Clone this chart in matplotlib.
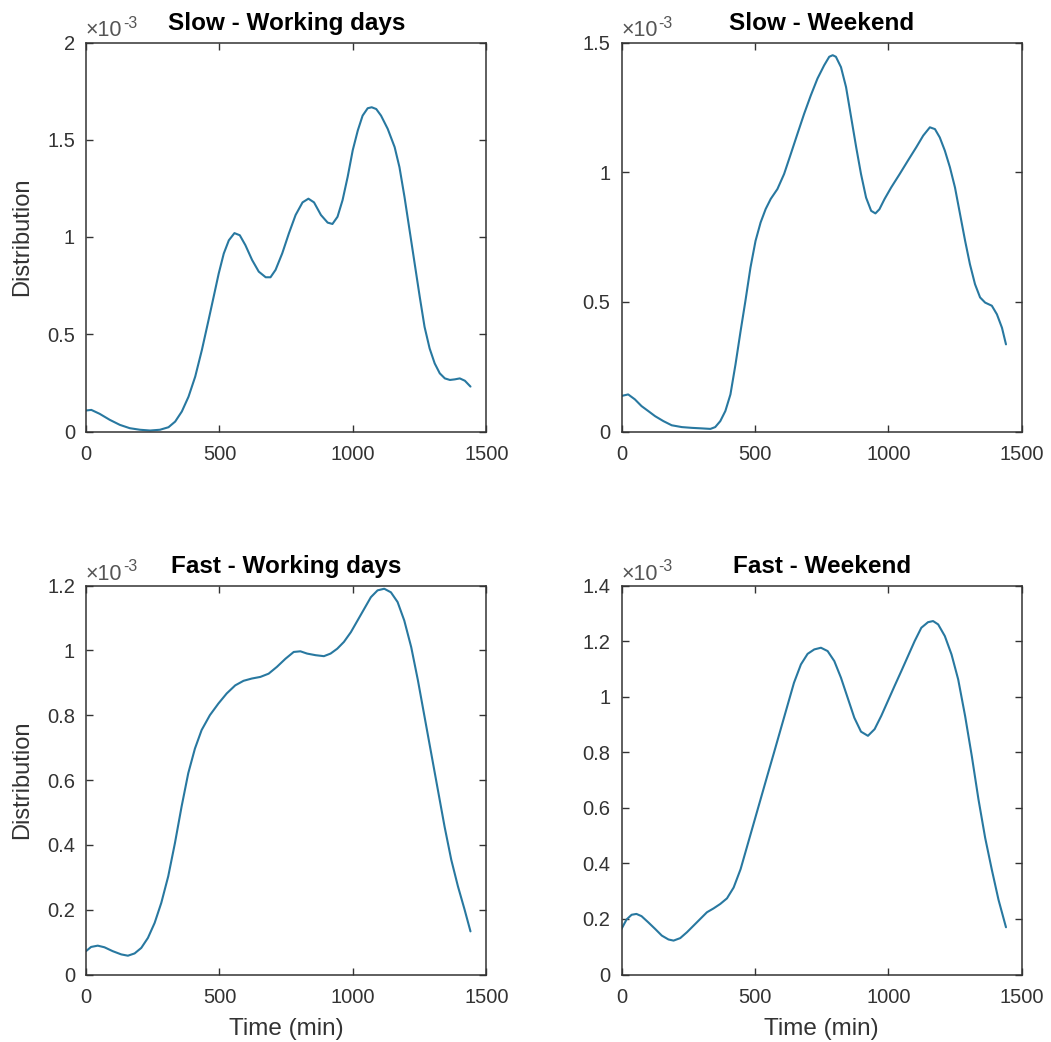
import matplotlib
matplotlib.use("Agg")
import matplotlib.pyplot as plt
from matplotlib.ticker import FuncFormatter

plt.rcParams["font.family"] = ["Liberation Sans", "DejaVu Sans"]

# ---- data: time of day (min) and estimated density (x 1e-3) ----
slow_wd_t = [0, 20, 51, 89, 127, 164, 202, 240, 277, 309, 334, 359, 384, 409, 434,
             459, 478, 497, 516, 535, 556, 576, 597, 622, 647, 673, 691, 710, 735,
             760, 785, 811, 833, 854, 880, 905, 923, 942, 961, 980, 999, 1018, 1036,
             1055, 1070, 1087, 1105, 1130, 1156, 1174, 1193, 1212, 1231, 1250, 1268,
             1287, 1306, 1325, 1344, 1363, 1381, 1400, 1419, 1440]
slow_wd_v = [0.108, 0.111, 0.091, 0.060, 0.034, 0.017, 0.009, 0.005, 0.009, 0.022,
             0.051, 0.103, 0.179, 0.282, 0.419, 0.573, 0.692, 0.812, 0.915, 0.983,
             1.020, 1.009, 0.958, 0.882, 0.822, 0.793, 0.793, 0.831, 0.916, 1.019,
             1.113, 1.178, 1.197, 1.178, 1.113, 1.074, 1.067, 1.104, 1.190, 1.309,
             1.446, 1.548, 1.624, 1.662, 1.667, 1.658, 1.624, 1.556, 1.462, 1.359,
             1.205, 1.034, 0.863, 0.692, 0.538, 0.427, 0.350, 0.299, 0.273, 0.265,
             0.268, 0.273, 0.261, 0.231]

slow_we_t = [0, 25, 50, 75, 100, 126, 157, 188, 226, 264, 301, 333, 351, 370, 389,
             408, 427, 446, 464, 483, 502, 521, 540, 559, 584, 609, 634, 659, 684,
             709, 734, 759, 778, 791, 803, 822, 841, 860, 879, 897, 916, 935, 951,
             966, 985, 1010, 1042, 1073, 1104, 1130, 1155, 1174, 1192, 1211, 1230,
             1249, 1268, 1287, 1305, 1324, 1343, 1362, 1387, 1406, 1425, 1440]
slow_we_v = [0.137, 0.143, 0.124, 0.098, 0.079, 0.059, 0.040, 0.024, 0.017, 0.014,
             0.012, 0.010, 0.017, 0.040, 0.079, 0.143, 0.259, 0.387, 0.503, 0.632,
             0.735, 0.806, 0.858, 0.897, 0.935, 0.993, 1.070, 1.148, 1.225, 1.296,
             1.361, 1.412, 1.445, 1.451, 1.445, 1.405, 1.328, 1.212, 1.096, 0.993,
             0.902, 0.851, 0.841, 0.857, 0.896, 0.941, 0.993, 1.045, 1.096, 1.141,
             1.173, 1.166, 1.134, 1.083, 1.019, 0.941, 0.838, 0.735, 0.645, 0.568,
             0.517, 0.497, 0.485, 0.452, 0.400, 0.336]

fast_wd_t = [0, 19, 44, 69, 100, 132, 157, 182, 207, 232, 257, 282, 308, 333, 358,
             383, 408, 433, 464, 496, 527, 559, 590, 621, 653, 684, 715, 747, 778,
             803, 828, 860, 891, 916, 941, 966, 992, 1017, 1042, 1067, 1092, 1117,
             1142, 1167, 1192, 1218, 1243, 1268, 1293, 1318, 1343, 1368, 1393, 1418,
             1440]
fast_wd_v = [0.072, 0.085, 0.089, 0.084, 0.072, 0.062, 0.058, 0.065, 0.082, 0.113,
             0.159, 0.221, 0.303, 0.405, 0.518, 0.621, 0.697, 0.754, 0.800, 0.836,
             0.867, 0.892, 0.906, 0.913, 0.918, 0.928, 0.949, 0.974, 0.995, 0.997,
             0.990, 0.985, 0.982, 0.990, 1.005, 1.026, 1.056, 1.092, 1.128, 1.164,
             1.185, 1.190, 1.179, 1.149, 1.092, 1.010, 0.908, 0.795, 0.682, 0.569,
             0.456, 0.354, 0.272, 0.200, 0.133]

fast_we_t = [0, 19, 38, 56, 75, 100, 126, 151, 176, 195, 220, 245, 270, 295, 320,
             345, 370, 395, 420, 446, 471, 496, 521, 546, 571, 596, 621, 646, 672,
             697, 722, 747, 772, 797, 822, 847, 872, 897, 923, 948, 973, 998, 1023,
             1048, 1073, 1098, 1123, 1148, 1167, 1186, 1211, 1236, 1261, 1287, 1312,
             1337, 1362, 1387, 1412, 1440]
fast_we_v = [0.164, 0.198, 0.215, 0.218, 0.210, 0.188, 0.164, 0.140, 0.126, 0.122,
             0.131, 0.152, 0.176, 0.200, 0.224, 0.238, 0.254, 0.274, 0.313, 0.379,
             0.463, 0.547, 0.631, 0.715, 0.798, 0.882, 0.966, 1.050, 1.116, 1.154,
             1.170, 1.176, 1.164, 1.128, 1.068, 0.996, 0.924, 0.874, 0.859, 0.883,
             0.931, 0.985, 1.039, 1.092, 1.146, 1.200, 1.248, 1.268, 1.272, 1.260,
             1.218, 1.152, 1.062, 0.930, 0.786, 0.630, 0.492, 0.377, 0.269, 0.170]

titles = ["Slow - Working days", "Slow - Weekend",
          "Fast - Working days", "Fast - Weekend"]
series = [(slow_wd_t, slow_wd_v), (slow_we_t, slow_we_v),
          (fast_wd_t, fast_wd_v), (fast_we_t, fast_we_v)]
y_tops = [2.0, 1.5, 1.2, 1.4]          # in units of 1e-3
y_steps = [0.5, 0.5, 0.2, 0.2]
x_ticks = [0, 500, 1000, 1500]

LINE = "#2878a0"
AXC = "#333333"

fig = plt.figure(figsize=(10.51, 10.42), dpi=100)
W = 1051.0
H = 1042.0
lefts = [86, 621.5]
tops = [42.5, 585.5]
aw, ah = 400.5, 389.0

for i, ((t, v), title) in enumerate(zip(series, titles)):
    r, c = divmod(i, 2)
    ax = fig.add_axes([lefts[c] / W, 1 - (tops[r] + ah) / H, aw / W, ah / H])
    ax.plot(t, [x * 1e-3 for x in v], color=LINE, lw=1.5,
            solid_joinstyle="round", solid_capstyle="round")
    ax.set_xlim(0, 1500)
    ax.set_ylim(0, y_tops[i] * 1e-3)
    ax.set_xticks(x_ticks)
    n = int(round(y_tops[i] / y_steps[i]))
    ax.set_yticks([k * y_steps[i] * 1e-3 for k in range(n + 1)])
    ax.yaxis.set_major_formatter(FuncFormatter(lambda val, pos: f"{val * 1e3:g}"))
    ax.tick_params(direction="in", length=5, width=1.0, color=AXC,
                   labelcolor=AXC, labelsize=14.5, top=True, right=True)
    ax.tick_params(axis="x", pad=10)
    ax.tick_params(axis="y", pad=8)
    for s in ax.spines.values():
        s.set_color(AXC)
        s.set_linewidth(1.1)
    ax.set_title(title, fontsize=17.5, fontweight="bold", color="black", pad=9)
    # exponent label of the y axis
    base_y = 1.0 + 6 / ah
    ax.text(0.0, base_y, "\u00d710", transform=ax.transAxes,
            ha="left", va="baseline", fontsize=15.5, color="#555555")
    ax.annotate("-3", xy=(0.0, base_y), xycoords="axes fraction",
                xytext=(26.5, 6), textcoords="offset points",
                ha="left", va="baseline", fontsize=11.5, color="#555555")
    if c == 0:
        ax.set_ylabel("Distribution", fontsize=17, color=AXC, va="center")
        ax.yaxis.set_label_coords(-0.16, 0.5)
    if r == 1:
        ax.set_xlabel("Time (min)", fontsize=17.5, color=AXC, va="center")
        ax.xaxis.set_label_coords(0.5, -0.139)

fig.savefig("out.png", dpi=100, facecolor="white")
